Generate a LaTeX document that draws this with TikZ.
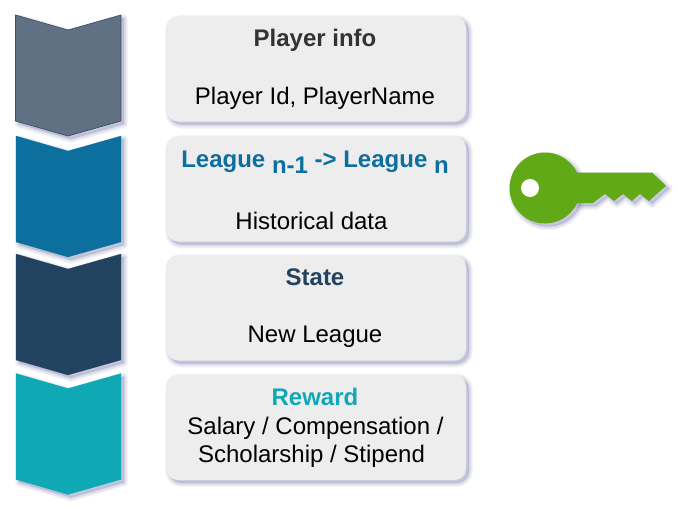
\documentclass[tikz,border=0pt]{standalone}
\usepackage{fontspec}
\setmainfont{Liberation Sans}
\definecolor{slatec}{HTML}{5F7183}
\definecolor{slateb}{HTML}{3D5068}
\definecolor{bluec}{HTML}{0C6F9E}
\definecolor{navyc}{HTML}{22435F}
\definecolor{tealc}{HTML}{0FA9B5}
\definecolor{boxc}{HTML}{EDEDED}
\definecolor{greenc}{HTML}{61A917}
\definecolor{shadowc}{HTML}{8588B4}
\definecolor{titlec}{HTML}{333333}
\newcommand{\softshadow}[1]{%
  \begin{scope}[shift={(3,3)}]
    \foreach \w in {8,6.5,5,3.5,2,0.5}{
      \fill[shadowc,opacity=0.07,draw=shadowc,line width=\w pt,line join=round] #1;
    }
  \end{scope}}
\newcommand{\chev}[3]{% top y, fill, draw
  \softshadow{(16,#1) -- (68,#1+15) -- (121,#1) -- (121,#1+106) -- (68,#1+121) -- (16,#1+106) -- cycle}
  \fill[#2,draw=#3,line width=0.2pt] (16,#1) -- (68,#1+15) -- (121,#1) -- (121,#1+106) -- (68,#1+121) -- (16,#1+106) -- cycle;}
\newcommand{\infobox}[1]{% top y
  \softshadow{[rounded corners=12pt] (166,#1) rectangle (466,#1+105.5)}
  \fill[boxc,rounded corners=12pt] (166,#1) rectangle (466,#1+105.5);}
\tikzset{
  body/.style={anchor=base,font=\fontsize{24}{26}\selectfont,text=black,inner sep=0pt},
  head/.style={anchor=base,font=\fontsize{24}{26}\selectfont\bfseries,inner sep=0pt},
}
\begin{document}
\begin{tikzpicture}[x=1pt,y=-1pt]
\useasboundingbox (0,0) rectangle (699,527);
% first chevron carries a thin darker outline
\softshadow{(15.5,15) -- (68,30) -- (121,15) -- (121,121) -- (68,136) -- (15.5,121) -- cycle}
\fill[slatec,draw=slateb,line width=0.7pt] (15.5,15) -- (68,30) -- (121,15) -- (121,121) -- (68,136) -- (15.5,121) -- cycle;
\chev{136}{bluec}{bluec}
\chev{254}{navyc}{navyc}
\chev{373.5}{tealc}{tealc}
\infobox{16}
\infobox{136}
\infobox{255}
\infobox{374.5}
\node[head,text=titlec] (t1) at (315,47) {Player info};
\node[body] (b1) at (315,104) {Player Id, PlayerName};
\node[head,text=bluec] (t2) at (315,167) {League \raisebox{-6.5pt}{n-1} -> League \raisebox{-6.5pt}{n}};
\node[body] (b2) at (311.5,229) {Historical data};
\node[head,text=navyc] (t3) at (315,285) {State};
\node[body] (b3) at (315,342) {New League};
\node[head,text=tealc] (t4) at (315,405) {Reward};
\node[body] (b4a) at (315.5,434) {Salary / Compensation /};
\node[body] (b4b) at (311.5,462) {Scholarship / Stipend};
% key
\softshadow{(575,172.5) -- (652,172.5) -- (666,185.7) -- (649,201) -- (640,194) -- (632,201) -- (623,194) -- (614,201) -- (605,194) -- (593,203) -- (575,203) -- cycle}
\softshadow{(545,188) circle[radius=35.5]}
\fill[greenc] (545,188) circle[radius=35.5];
\fill[greenc] (575,172.5) -- (652,172.5) -- (666,185.7) -- (649,201) -- (640,194) -- (632,201) -- (623,194) -- (614,201) -- (605,194) -- (593,203) -- (575,203) -- cycle;
\fill[white] (530,188) circle[radius=9];
\end{tikzpicture}
\end{document}
